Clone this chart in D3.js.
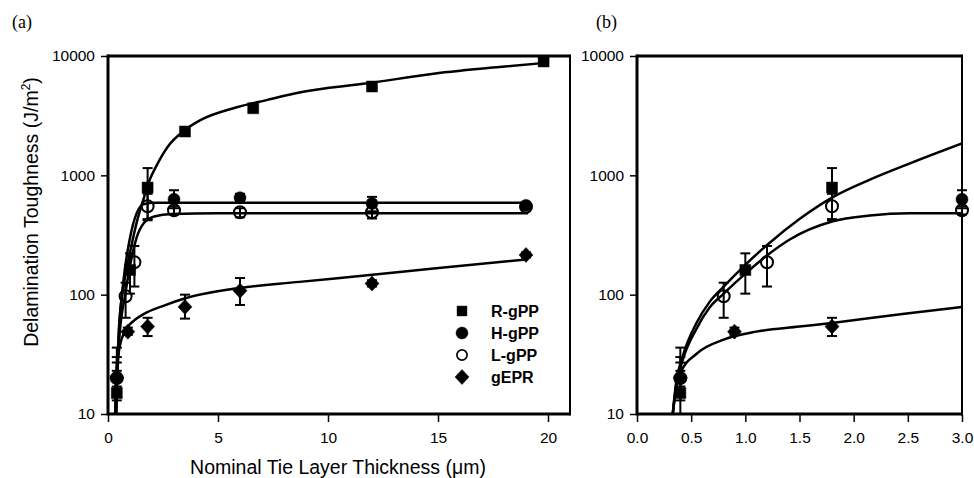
<!DOCTYPE html>
<html><head><meta charset="utf-8">
<script src="https://cdn.jsdelivr.net/npm/d3@7"></script>
<style>
body{margin:0;background:#fff}
svg{display:block}
text{font-family:"Liberation Sans",Arial,sans-serif;fill:#000}
</style>
</head><body>
<svg id="chart" width="974" height="478"></svg>
<script>
// ---------- DATA ----------
const seriesNames = ["R-gPP", "H-gPP", "L-gPP", "gEPR"];

const rgppX  = [0.4, 1.0, 1.8, 3.5, 6.6, 12, 19.8];
const rgppY  = [15, 161, 790, 2330, 3650, 5550, 9000];
const rgppLo = [10, 102, 430, null, null, null, null];
const rgppHi = [27, 222, 1150, null, null, null, null];

const hgppX  = [0.4, 3.0, 6.0, 12, 19];
const hgppY  = [20, 630, 650, 580, 560];
const hgppLo = [14, 530, 600, 500, null];
const hgppHi = [30, 750, 700, 660, null];

const lgppX  = [0.4, 0.8, 1.2, 1.8, 3.0, 6.0, 12, 19];
const lgppY  = [20, 97, 187, 550, 510, 490, 490, 545];
const lgppLo = [13, 64, 117, 420, 470, 445, 435, 520];
const lgppHi = [36, 126, 256, 700, 550, 530, 545, 575];

const geprX  = [0.4, 0.9, 1.8, 3.5, 6.0, 12, 19];
const geprY  = [20, 49, 54, 79, 108, 124, 215];
const geprLo = [17, 46, 45, 63, 82, 117, 205];
const geprHi = [23, 53, 64, 100, 138, 132, 226];

// fitted curves
const fitRaX = [0.35, 0.5, 0.73, 1.05, 1.3, 1.6, 1.9, 2.2, 2.7, 3.5, 4.2, 5.7, 7.2, 8.7, 11.8, 14.8, 17.8, 20];
const fitRaY = [10, 53, 124, 250, 400, 620, 920, 1200, 1720, 2400, 2900, 3650, 4270, 4950, 5900, 7100, 8100, 8800];
const fitHaX = [0.35, 0.5, 0.7, 1.0, 1.3, 1.6, 2.0, 3, 6, 12, 19.1];
const fitHaY = [10, 50, 130, 300, 480, 570, 590, 590, 590, 590, 590];
const fitLaX = [0.35, 0.5, 0.8, 1.1, 1.3, 1.64, 2.1, 2.9, 5, 12, 19.1];
const fitLaY = [10, 40, 105, 215, 300, 400, 452, 475, 480, 480, 480];
const fitGaX = [0.33, 0.36, 0.5, 0.73, 1.15, 1.64, 2.55, 3.4, 5.7, 8.7, 11.9, 14.8, 19];
const fitGaY = [10, 20, 34, 48, 60, 69, 81, 92, 112, 128, 146, 166, 197];

// fitted curves
const fitRbX = [0.33, 0.36, 0.42, 0.55, 0.67, 0.8, 1.0, 1.22, 1.5, 1.8, 2.15, 2.52, 3.0];
const fitRbY = [10, 18, 30, 58, 87, 117, 178, 270, 430, 650, 920, 1260, 1850];
const fitLbX = [0.33, 0.36, 0.42, 0.55, 0.67, 0.8, 1.0, 1.22, 1.41, 1.8, 2.15, 2.52, 3.0];
const fitLbY = [10, 17, 28, 52, 78, 102, 150, 220, 290, 410, 460, 480, 480];
const fitGbX = [0.33, 0.36, 0.4, 0.55, 0.8, 1.1, 1.5, 1.8, 2.45, 3.0];
const fitGbY = [10, 16, 22, 32, 42, 49, 54, 58, 69, 79];

const yTicks = [10, 100, 1000, 10000];
const xTicksA = [0, 5, 10, 15, 20];
const xTicksB = [0, 0.5, 1.0, 1.5, 2.0, 2.5, 3.0];

// ---------- DRAW ----------
const svg = d3.select("#chart");

function zip(xs, ys, lo, hi) {
  return xs.map((x, i) => ({x, y: ys[i], lo: lo ? lo[i] : null, hi: hi ? hi[i] : null}));
}
const pts = {
  "R-gPP": zip(rgppX, rgppY, rgppLo, rgppHi),
  "H-gPP": zip(hgppX, hgppY, hgppLo, hgppHi),
  "L-gPP": zip(lgppX, lgppY, lgppLo, lgppHi),
  "gEPR":  zip(geprX, geprY, geprLo, geprHi)
};

function markerPath(name) {
  if (name === "R-gPP") return "M-5.5,-5.5H5.5V5.5H-5.5Z";
  if (name === "gEPR") return "M0,-7.5L7,0L0,7.5L-7,0Z";
  return d3.symbol().type(d3.symbolCircle).size(Math.PI * 36)();
}
function markerFill(name) { return name === "L-gPP" ? "none" : "#000"; }

function panel(opts) {
  const {x0, x1, xmax, ticks, fmt, fits, labelX, label, clipId} = opts;
  const y0 = 56, y1 = 414;
  const x = d3.scaleLinear().domain([0, xmax]).range([x0, x1]);
  const y = d3.scaleLog().domain([10, 10000]).range([y1, y0]);
  const g = svg.append("g");

  g.append("defs").append("clipPath").attr("id", clipId)
    .append("rect").attr("x", x0).attr("y", y0 - 2).attr("width", x1 - x0).attr("height", y1 - y0 + 2);

  // curves
  const line = d3.line().x(d => x(d[0])).y(d => y(d[1])).curve(d3.curveMonotoneX);
  const cg = g.append("g").attr("clip-path", `url(#${clipId})`);
  fits.forEach(f => {
    cg.append("path").datum(f[0].map((v, i) => [v, f[1][i]]))
      .attr("d", line).attr("fill", "none").attr("stroke", "#000").attr("stroke-width", 2.5);
  });

  // error bars and markers
  seriesNames.forEach(name => {
    const data = pts[name].filter(d => d.x <= xmax + 1e-9);
    const eg = g.append("g").attr("stroke", "#000").attr("stroke-width", 2).attr("fill", "none");
    data.filter(d => d.lo != null).forEach(d => {
      const cx = x(d.x);
      eg.append("line").attr("x1", cx).attr("x2", cx).attr("y1", y(d.lo)).attr("y2", y(d.hi));
      eg.append("line").attr("x1", cx - 5).attr("x2", cx + 5).attr("y1", y(d.lo)).attr("y2", y(d.lo));
      eg.append("line").attr("x1", cx - 5).attr("x2", cx + 5).attr("y1", y(d.hi)).attr("y2", y(d.hi));
    });
    g.append("g").selectAll("path").data(data).join("path")
      .attr("d", markerPath(name))
      .attr("transform", d => `translate(${x(d.x)},${y(d.y)})`)
      .attr("fill", markerFill(name))
      .attr("stroke", "#000").attr("stroke-width", name === "L-gPP" ? 2 : 0.5);
  });

  // frame
  g.append("line").attr("x1", x0).attr("x2", x1).attr("y1", y0).attr("y2", y0).attr("stroke", "#000").attr("stroke-width", 3);
  g.append("line").attr("x1", x0).attr("x2", x1).attr("y1", y1).attr("y2", y1).attr("stroke", "#000").attr("stroke-width", 3);
  g.append("line").attr("x1", x0).attr("x2", x0).attr("y1", y0 - 1.5).attr("y2", y1 + 1.5).attr("stroke", "#000").attr("stroke-width", 3);
  g.append("line").attr("x1", x1).attr("x2", x1).attr("y1", y0 - 1.5).attr("y2", y1 + 1.5).attr("stroke", "#000").attr("stroke-width", 2);

  // axes
  const xAxis = d3.axisBottom(x).tickValues(ticks).tickFormat(fmt).tickSize(7).tickPadding(10);
  const xa = g.append("g").attr("transform", `translate(0,${y1 + 1})`).call(xAxis);
  const yAxis = d3.axisLeft(y).tickValues(yTicks).tickFormat(d3.format("d")).tickSize(6).tickPadding(6);
  const ya = g.append("g").attr("transform", `translate(${x0 - 1},0)`).call(yAxis);
  [xa, ya].forEach(a => {
    a.select(".domain").remove();
    a.selectAll(".tick line").attr("stroke", "#000").attr("stroke-width", 1.5);
    a.selectAll(".tick text").attr("font-family", '"Liberation Sans", Arial, sans-serif')
      .attr("font-size", 15.5).attr("fill", "#000");
  });

  svg.append("text").attr("x", labelX).attr("y", 28)
    .style("font-family", '"Liberation Serif", "Times New Roman", serif')
    .attr("font-size", 18).text(label);
  return {x, y, g};
}

panel({
  x0: 108, x1: 570, xmax: 21, ticks: xTicksA, fmt: d3.format("d"),
  fits: [[fitRaX, fitRaY], [fitHaX, fitHaY], [fitLaX, fitLaY], [fitGaX, fitGaY]],
  labelX: 12, label: "(a)", clipId: "clipA"
});
panel({
  x0: 637, x1: 962, xmax: 3, ticks: xTicksB, fmt: d3.format(".1f"),
  fits: [[fitRbX, fitRbY], [fitLbX, fitLbY], [fitGbX, fitGbY]],
  labelX: 596, label: "(b)", clipId: "clipB"
});

// legend
const leg = svg.append("g").attr("transform", "translate(462,311)");
seriesNames.forEach((name, i) => {
  const row = leg.append("g").attr("transform", `translate(0,${i * 22})`);
  row.append("path").attr("d", markerPath(name)).attr("fill", markerFill(name))
    .attr("stroke", "#000").attr("stroke-width", name === "L-gPP" ? 2 : 0.5)
    .attr("transform", name === "R-gPP" ? "scale(0.9)" : (name === "L-gPP" ? "scale(0.85)" : null));
  row.append("text").attr("x", 29).attr("y", 6).attr("font-size", 16).attr("font-weight", "bold").text(name);
});

// axis titles
svg.append("text").attr("x", 338).attr("y", 474).attr("text-anchor", "middle")
  .attr("font-size", 19.5).text("Nominal Tie Layer Thickness (\u03bcm)");
const yt = svg.append("text").attr("transform", "translate(38,212) rotate(-90)")
  .attr("text-anchor", "middle").attr("font-size", 19.5);
yt.append("tspan").text("Delamination Toughness (J/m");
yt.append("tspan").attr("font-size", 12).attr("dy", -8).text("2");
yt.append("tspan").attr("dy", 8).text(")");
</script>
</body></html>
